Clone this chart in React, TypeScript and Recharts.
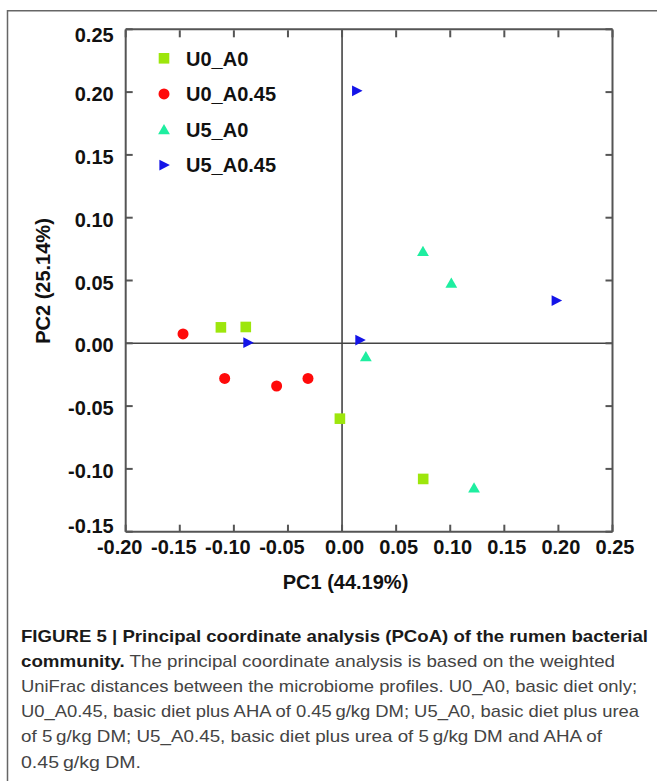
import React from 'react'
import { ScatterChart, Scatter, XAxis, YAxis, ReferenceLine } from 'recharts'

// axis ticks
const xTicks = [-0.2, -0.15, -0.1, -0.05, 0, 0.05, 0.1, 0.15, 0.2, 0.25]
const yTicks = [-0.15, -0.1, -0.05, 0, 0.05, 0.1, 0.15, 0.2, 0.25]

// PCoA coordinates
const u0A0 = [
  { x: -0.112, y: 0.0127 },
  { x: -0.089, y: 0.013 },
  { x: -0.002, y: -0.06 },
  { x: 0.075, y: -0.108 },
]
const u0A045 = [
  { x: -0.147, y: 0.0075 },
  { x: -0.1085, y: -0.028 },
  { x: -0.0605, y: -0.034 },
  { x: -0.0315, y: -0.028 },
]
const u5A0 = [
  { x: 0.0748, y: 0.0733 },
  { x: 0.101, y: 0.048 },
  { x: 0.022, y: -0.0105 },
  { x: 0.122, y: -0.115 },
]
const u5A045 = [
  { x: 0.0135, y: 0.201 },
  { x: -0.087, y: 0.0005 },
  { x: 0.0165, y: 0.0026 },
  { x: 0.198, y: 0.034 },
]

const seriesNames = ['U0_A0', 'U0_A0.45', 'U5_A0', 'U5_A0.45']
const seriesColors = ['#9de60c', '#ff0a0a', '#1eeea0', '#1414e8']

const captionLines = [
  [{ bold: true, text: 'FIGURE 5 | Principal coordinate analysis (PCoA) of the rumen bacterial' }],
  [
    { bold: true, text: 'community.' },
    { bold: false, text: ' The principal coordinate analysis is based on the weighted' },
  ],
  [{ bold: false, text: 'UniFrac distances between the microbiome profiles. U0_A0, basic diet only;' }],
  [{ bold: false, text: 'U0_A0.45, basic diet plus AHA of 0.45\u2009g/kg DM; U5_A0, basic diet plus urea' }],
  [{ bold: false, text: 'of 5\u2009g/kg DM; U5_A0.45, basic diet plus urea of 5\u2009g/kg DM and AHA of' }],
  [{ bold: false, text: '0.45\u2009g/kg DM.' }],
]
const captionWidths = [627, 594, 616, 618, 581, 120]

const FONT = '"Liberation Sans", Arial, Helvetica, sans-serif'
const AXIS = '#555'

type ShapeProps = { cx?: number; cy?: number; fill?: string }

function Square({ cx = 0, cy = 0, fill }: ShapeProps) {
  return <rect x={cx - 5.3} y={cy - 5.3} width={10.6} height={10.6} fill={fill} />
}
function Dot({ cx = 0, cy = 0, fill }: ShapeProps) {
  return <circle cx={cx} cy={cy} r={5.5} fill={fill} />
}
function TriUp({ cx = 0, cy = 0, fill }: ShapeProps) {
  return <polygon points={`${cx},${cy - 5.6} ${cx + 5.9},${cy + 4.8} ${cx - 5.9},${cy + 4.8}`} fill={fill} />
}
function TriRight({ cx = 0, cy = 0, fill }: ShapeProps) {
  return <polygon points={`${cx - 4.6},${cy - 5.4} ${cx + 5.9},${cy} ${cx - 4.6},${cy + 5.4}`} fill={fill} />
}
const shapes = [Square, Dot, TriUp, TriRight]
const seriesData = [u0A0, u0A045, u5A0, u5A045]

const fmt = (v: number) => (Math.abs(v) < 1e-9 ? 0 : v).toFixed(2)

function LeftTick({ x, y, payload }: any) {
  const v = payload.value
  const dy = v === 0.25 ? 4 : v === -0.15 ? -8 : 0
  return (
    <g>
      <line x1={x} x2={x + 7} y1={y} y2={y} stroke={AXIS} strokeWidth={2} />
      <text x={x - 12} y={y + 9 + dy} textAnchor="end" fontFamily={FONT} fontWeight="bold" fontSize={20} fill="#111">
        {fmt(v)}
      </text>
    </g>
  )
}

function BottomTick({ x, y, payload }: any) {
  const v = payload.value
  return (
    <g>
      <line x1={x} x2={x} y1={y} y2={y - 7} stroke={AXIS} strokeWidth={2} />
      <text x={x + (v < 0 ? -6 : 2.5)} y={y + 22} textAnchor="middle" fontFamily={FONT} fontWeight="bold" fontSize={20} fill="#111">
        {fmt(v)}
      </text>
    </g>
  )
}

// top/right axes are 1px wide, so their tick anchor sits 1px outside the plot edge
function TopTick({ x, y }: any) {
  return <line x1={x} x2={x} y1={y + 1} y2={y + 8} stroke={AXIS} strokeWidth={2} />
}

function RightTick({ x, y }: any) {
  return <line x1={x} x2={x - 7} y1={y} y2={y} stroke={AXIS} strokeWidth={2} />
}

const axisLine = { stroke: AXIS, strokeWidth: 2 }

export default function App() {
  return (
    <div style={{ position: 'absolute', left: 0, top: 0, width: 657, height: 781, background: '#fff' }}>
      <ScatterChart width={657} height={600} margin={{ top: 28.3, right: 43.5, bottom: 0, left: 0 }}>
        <XAxis
          xAxisId="b"
          type="number"
          dataKey="x"
          domain={[-0.2, 0.25]}
          ticks={xTicks}
          interval={0}
          allowDataOverflow
          tickSize={0}
          tickMargin={0}
          tickLine={false}
          axisLine={axisLine}
          tick={BottomTick}
          height={68.3}
        />
        <XAxis
          xAxisId="t"
          orientation="top"
          type="number"
          dataKey="x"
          domain={[-0.2, 0.25]}
          ticks={xTicks}
          interval={0}
          allowDataOverflow
          tickSize={0}
          tickMargin={0}
          tickLine={false}
          axisLine={axisLine}
          tick={TopTick}
          height={1}
        />
        <YAxis
          yAxisId="l"
          type="number"
          dataKey="y"
          domain={[-0.15, 0.25]}
          ticks={yTicks}
          interval={0}
          allowDataOverflow
          tickSize={0}
          tickMargin={0}
          tickLine={false}
          axisLine={axisLine}
          tick={LeftTick}
          width={125.7}
        />
        <YAxis
          yAxisId="r"
          orientation="right"
          type="number"
          dataKey="y"
          domain={[-0.15, 0.25]}
          ticks={yTicks}
          interval={0}
          allowDataOverflow
          tickSize={0}
          tickMargin={0}
          tickLine={false}
          axisLine={axisLine}
          tick={RightTick}
          width={1}
        />
        <ReferenceLine xAxisId="b" yAxisId="l" x={0} stroke="#444" strokeWidth={1.6} />
        <ReferenceLine xAxisId="b" yAxisId="l" y={0} stroke="#444" strokeWidth={1.6} />
        {/* invisible series so the top and right frame axes get drawn */}
        <Scatter
          xAxisId="t"
          yAxisId="r"
          data={u0A0}
          shape={() => <g />}
          legendType="none"
          isAnimationActive={false}
        />
        {seriesData.map((data, i) => {
          const Shape = shapes[i]
          return (
            <Scatter
              key={seriesNames[i]}
              name={seriesNames[i]}
              xAxisId="b"
              yAxisId="l"
              data={data}
              fill={seriesColors[i]}
              shape={(p: any) => <Shape cx={p.cx} cy={p.cy} fill={seriesColors[i]} />}
              isAnimationActive={false}
            />
          )
        })}
      </ScatterChart>

      <svg
        width={657}
        height={781}
        style={{ position: 'absolute', left: 0, top: 0, pointerEvents: 'none' }}
      >
        {/* figure frame */}
        <line x1={7.5} x2={7.5} y1={10} y2={781} stroke="#666" strokeWidth={1.5} />
        <line x1={7} x2={657} y1={10.7} y2={10.7} stroke="#666" strokeWidth={1.5} />

        {/* legend */}
        {seriesNames.map((name, i) => {
          const Shape = shapes[i]
          const cy = 58.3 + i * 35.6
          return (
            <g key={name}>
              <Shape cx={164} cy={cy} fill={seriesColors[i]} />
              <text x={186} y={cy + 7.2} fontFamily={FONT} fontWeight="bold" fontSize={20} fill="#111">
                {name}
              </text>
            </g>
          )
        })}

        {/* axis titles */}
        <text x={345.5} y={589} textAnchor="middle" fontFamily={FONT} fontWeight="bold" fontSize={20} fill="#111">
          PC1 (44.19%)
        </text>
        <text
          transform="translate(49.7 281) rotate(-90)"
          textAnchor="middle"
          fontFamily={FONT}
          fontWeight="bold"
          fontSize={20}
          fill="#111"
        >
          PC2 (25.14%)
        </text>

        {/* caption */}
        {captionLines.map((parts, i) => (
          <text
            key={i}
            x={21}
            y={642 + i * 25.1}
            fontFamily={FONT}
            fontSize={17}
            textLength={captionWidths[i]}
            lengthAdjust="spacingAndGlyphs"
          >
            {parts.map((p, j) => (
              <tspan key={j} fontWeight={p.bold ? 'bold' : 'normal'} fill={p.bold ? '#1a1a1a' : '#444'}>
                {p.text}
              </tspan>
            ))}
          </text>
        ))}
      </svg>
    </div>
  )
}
